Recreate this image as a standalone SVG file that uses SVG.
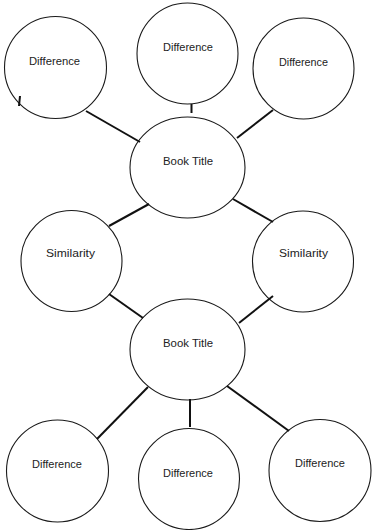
<svg xmlns="http://www.w3.org/2000/svg" width="372" height="530" viewBox="0 0 372 530">
<style>
.n{fill:#fff;stroke:#1a1a1a;stroke-width:1.1}
.t{font-family:"Liberation Sans",Arial,sans-serif;font-size:11px;fill:#222;text-anchor:middle}
.c{stroke:#111;stroke-width:2;fill:none;stroke-linecap:butt}
</style>
<rect width="372" height="530" fill="#fff"/>
<g id="diff-top-left"><circle class="n" cx="55.5" cy="67.5" r="51"/><text class="t" x="54.5" y="65" textLength="51" lengthAdjust="spacingAndGlyphs">Difference</text></g>
<g id="diff-top-mid"><circle class="n" cx="187.5" cy="53.5" r="50.5"/><text class="t" x="188" y="51" textLength="50" lengthAdjust="spacingAndGlyphs">Difference</text></g>
<g id="diff-top-right"><circle class="n" cx="303.5" cy="68.5" r="50.5"/><text class="t" x="303.5" y="66" textLength="49" lengthAdjust="spacingAndGlyphs">Difference</text></g>
<g id="book-title-1"><ellipse class="n" cx="187.5" cy="167.5" rx="57.5" ry="50.5"/><text class="t" x="188" y="165" textLength="50" lengthAdjust="spacingAndGlyphs">Book Title</text></g>
<g id="similarity-left"><circle class="n" cx="71.5" cy="261" r="50.5"/><text class="t" x="70.5" y="257" textLength="49" lengthAdjust="spacingAndGlyphs">Similarity</text></g>
<g id="similarity-right"><circle class="n" cx="303" cy="261.5" r="50.5"/><text class="t" x="303.5" y="257" textLength="49" lengthAdjust="spacingAndGlyphs">Similarity</text></g>
<g id="book-title-2"><ellipse class="n" cx="187.5" cy="349.5" rx="57.5" ry="50.5"/><text class="t" x="188" y="347" textLength="50" lengthAdjust="spacingAndGlyphs">Book Title</text></g>
<g id="diff-bottom-left"><circle class="n" cx="57.5" cy="471" r="51"/><text class="t" x="57" y="468" textLength="50" lengthAdjust="spacingAndGlyphs">Difference</text></g>
<g id="diff-bottom-mid"><circle class="n" cx="189" cy="479" r="50.5"/><text class="t" x="188" y="477" textLength="50" lengthAdjust="spacingAndGlyphs">Difference</text></g>
<g id="diff-bottom-right"><circle class="n" cx="320" cy="470.5" r="51"/><text class="t" x="320" y="467" textLength="50" lengthAdjust="spacingAndGlyphs">Difference</text></g>
<g id="connectors">
<line class="c" x1="86" y1="111" x2="140" y2="142"/>
<line class="c" x1="191.5" y1="104" x2="191.5" y2="113"/>
<line class="c" x1="273" y1="110" x2="237" y2="138"/>
<line class="c" x1="149" y1="204" x2="109" y2="226"/>
<line class="c" x1="233" y1="199" x2="273" y2="222"/>
<line class="c" x1="109" y1="294" x2="143" y2="318"/>
<line class="c" x1="273" y1="296" x2="239" y2="323"/>
<line class="c" x1="148" y1="387" x2="97" y2="439"/>
<line class="c" x1="190" y1="399" x2="190" y2="427"/>
<line class="c" x1="227" y1="386" x2="289" y2="431"/>
<line class="c" x1="20" y1="96" x2="19" y2="106" stroke-width="1.3"/>
</g>
</svg>
